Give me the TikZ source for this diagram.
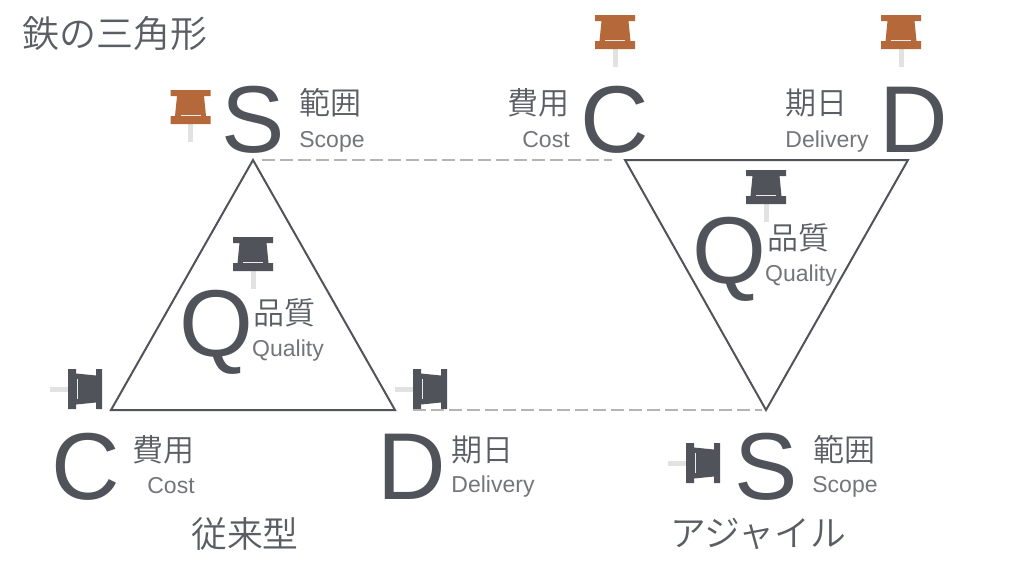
\documentclass[tikz,border=0pt]{standalone}
\usepackage{fontspec}
\newfontfamily\cjk{Noto Sans CJK JP DemiLight}
\newfontfamily\lat{Liberation Sans}
\definecolor{ink}{HTML}{50535A}
\definecolor{txt}{HTML}{5A5D63}
\definecolor{rust}{HTML}{B5683A}
\definecolor{needle}{HTML}{E2E2E2}
\definecolor{dash}{HTML}{B4B4B4}
\tikzset{
 big/.style={inner sep=0,text=ink,font=\lat\fontsize{95}{95}\selectfont},
 ja/.style={inner sep=0,text=txt,font=\cjk\fontsize{31}{31}\selectfont},
 en/.style={inner sep=0,text=txt!85,font=\lat\fontsize{23}{23}\selectfont},
 head/.style={inner sep=0,text=txt,font=\cjk\fontsize{35.8}{35.8}\selectfont},
 tri/.style={draw=ink,line width=2pt,line join=miter},
 dashline/.style={draw=dash,line width=1.5pt,dash pattern=on 13pt off 5pt},
 pin/.pic={
  \fill[needle] (-2.5,34) rectangle (2.5,52);
  \fill[#1] (-20,0) -- (20,0) -- (20,6) -- (13.5,6) -- (15.5,26) -- (20,26) -- (20,34) -- (-20,34) -- (-20,26) -- (-15.5,26) -- (-13.5,6) -- (-20,6) -- cycle;
  \draw[white!85!gray,line width=.8pt] (-10,25) -- (10,25);
 }
}
\begin{document}
\begin{tikzpicture}[x=1pt,y=-1pt]
\useasboundingbox (0,0) rectangle (1024,560);
\node[head,anchor=west,font=\cjk\fontsize{37}{37}\selectfont] (title) at (22,33) {鉄の三角形};
% pins
\pic at (190.5,90) {pin=rust};
\pic at (253,237) {pin=ink};
\pic[rotate=-90] at (102,389) {pin=ink};
\pic[rotate=-90] at (447,389) {pin=ink};
\pic at (615,15) {pin=rust};
\pic at (901,15) {pin=rust};
\pic at (766,170) {pin=ink};
\pic[rotate=-90] at (720,463) {pin=ink};
% triangles
\coordinate (la) at (253,160); \coordinate (lb) at (111,410); \coordinate (lc) at (395,410);
\coordinate (ra) at (625,160); \coordinate (rb) at (908,160); \coordinate (rc) at (766,410);
\draw[tri] (la) -- (lb) -- (lc) -- cycle;
\draw[tri] (ra) -- (rb) -- (rc) -- cycle;
\coordinate (d1) at (262,160); \coordinate (d2) at (612,160);
\coordinate (d3) at (413,410); \coordinate (d4) at (762,410);
\draw[dashline] (d1) -- (d2);
\draw[dashline] (d3) -- (d4);
% left
\node[big] (sl) at (253.5,120) {S};
\node[ja] (sljp) at (330,103) {範囲};
\node[en] (slen) at (332,141.5) {Scope};
\node[big] (ql) at (216,332) {Q};
\node[ja] (qljp) at (284,313) {品質};
\node[en] (qlen) at (288,350.5) {Quality};
\node[big] (cl) at (85.5,467) {C};
\node[ja] (cljp) at (163,450) {費用};
\node[en] (clen) at (171,486) {Cost};
\node[big] (dl) at (412,467) {D};
\node[ja] (dljp) at (482,450) {期日};
\node[en] (dlen) at (493,487) {Delivery};
\node[head] (lt) at (245,534) {従来型};
% right
\node[big] (cr) at (615,120) {C};
\node[ja] (crjp) at (538,103) {費用};
\node[en] (cren) at (546,140) {Cost};
\node[big] (dr) at (914,120) {D};
\node[ja] (drjp) at (816,103) {期日};
\node[en] (dren) at (827,141.5) {Delivery};
\node[big] (qr) at (729,259) {Q};
\node[ja] (qrjp) at (798,238) {品質};
\node[en] (qren) at (801,275.5) {Quality};
\node[big] (sr) at (766,467) {S};
\node[ja] (srjp) at (844,450) {範囲};
\node[en] (sren) at (845,487) {Scope};
\node[head] (rt) at (758,534) {アジャイル};
\end{tikzpicture}
\end{document}
